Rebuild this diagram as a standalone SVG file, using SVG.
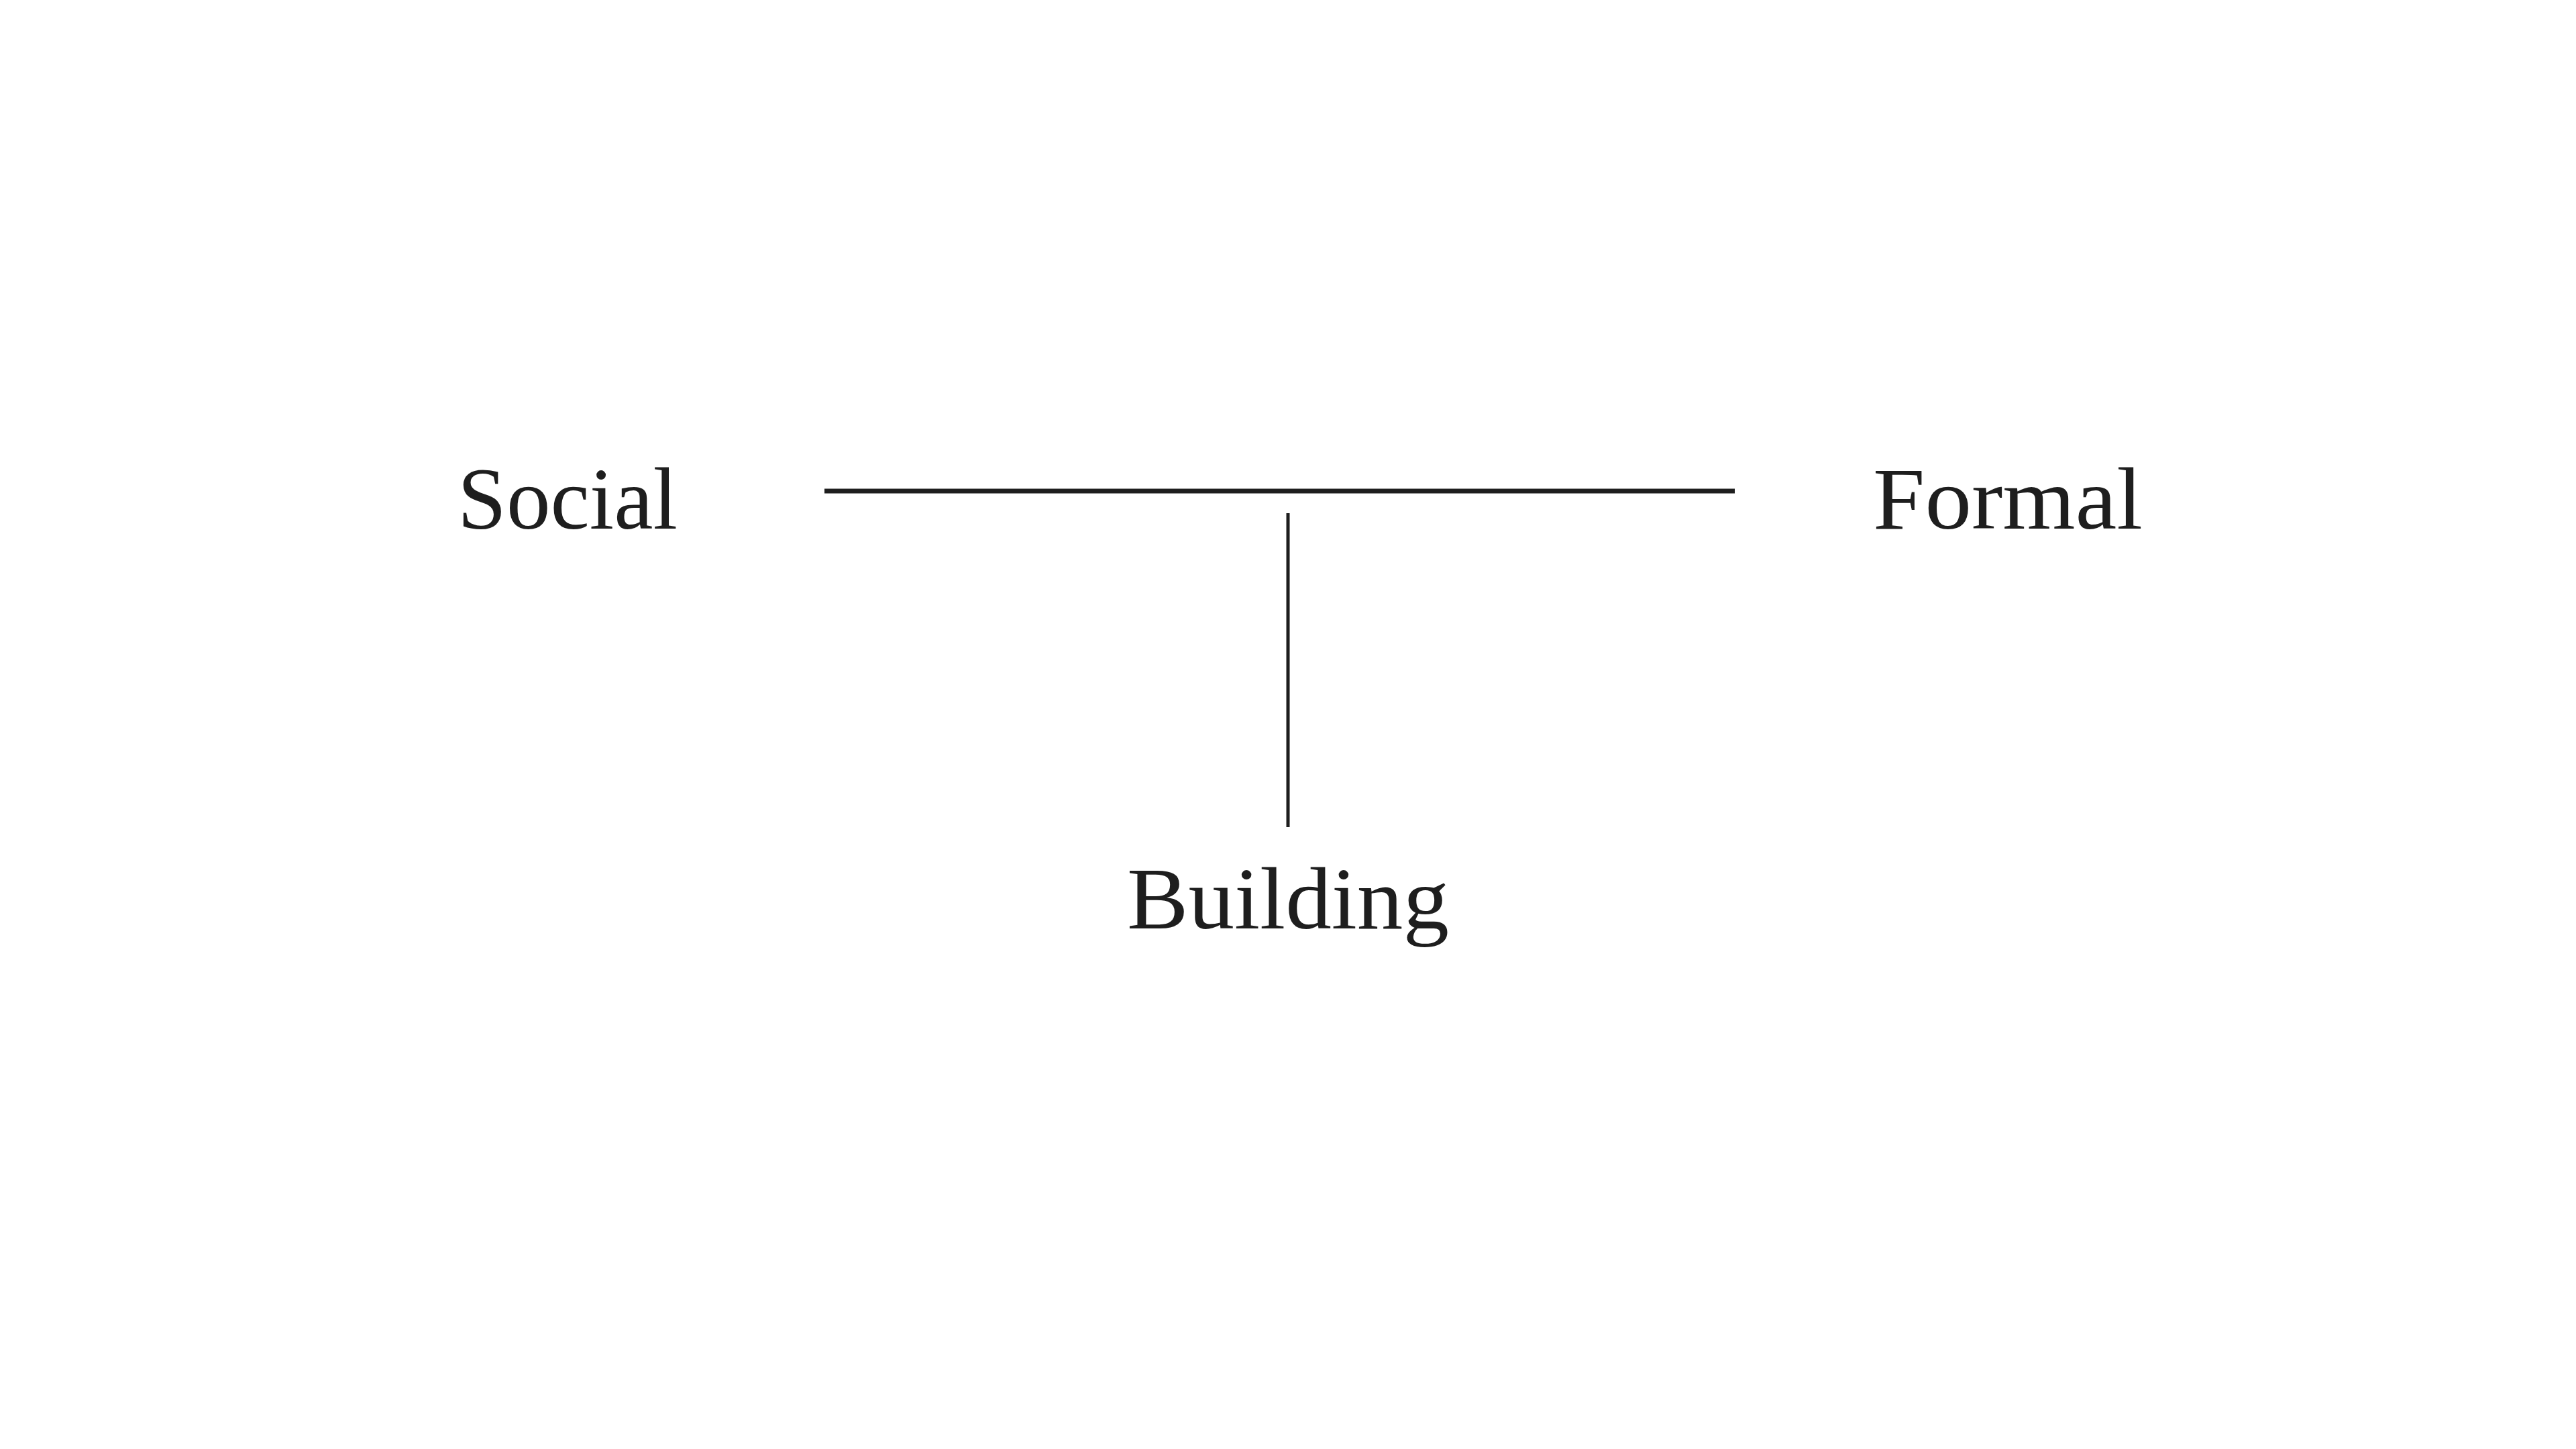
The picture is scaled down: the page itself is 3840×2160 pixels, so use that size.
<svg xmlns="http://www.w3.org/2000/svg" width="3840" height="2160" viewBox="0 0 3840 2160">
<style>
.lbl{font-family:"Liberation Serif","Times New Roman",serif;font-size:132px;fill:#1e1e1e}
.conn{stroke:#1e1e1e;fill:none}
</style>
<rect width="3840" height="2160" fill="#ffffff"/>
<g id="connectors">
<line class="conn" x1="1229" y1="732" x2="2586" y2="732" stroke-width="7"/>
<line class="conn" x1="1920" y1="765" x2="1920" y2="1233" stroke-width="5"/>
</g>
<g id="node-social"><text class="lbl" x="682" y="788" textLength="328" lengthAdjust="spacingAndGlyphs">Social</text></g>
<g id="node-formal"><text class="lbl" x="2792" y="788" textLength="402" lengthAdjust="spacingAndGlyphs">Formal</text></g>
<g id="node-building"><text class="lbl" x="1680" y="1384" textLength="480" lengthAdjust="spacingAndGlyphs">Building</text></g>
</svg>
